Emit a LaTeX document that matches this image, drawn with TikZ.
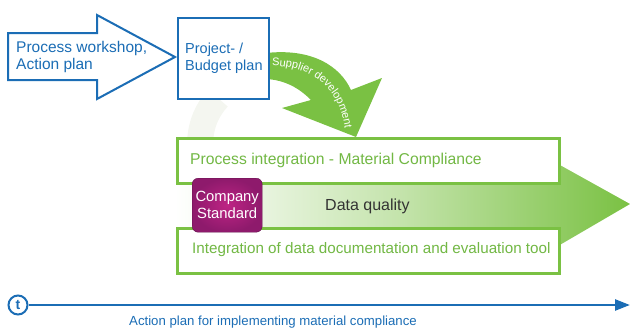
\documentclass[tikz,border=0pt]{standalone}
\usepackage{fontspec}
\setmainfont{Liberation Sans}
\usetikzlibrary{arrows.meta,decorations.text}
\definecolor{mblue}{HTML}{1B6DB5}
\definecolor{mgreen}{HTML}{7AC143}
\definecolor{tgreen}{HTML}{72B844}
\definecolor{mpurple}{HTML}{8E1A6C}
\definecolor{mpurplec}{HTML}{BE2484}
\definecolor{ringc}{HTML}{F4F6F0}
\begin{document}
\begin{tikzpicture}[x=1pt,y=-1pt,
  txt/.style={font=\fontsize{15.5}{17}\selectfont},
  bluebox/.style={draw=mblue,line width=2pt,fill=white},
  greenbox/.style={draw=mgreen,line width=2.5pt,fill=white,minimum width=382pt,minimum height=45pt,anchor=north west},
  greentxt/.style={text=tgreen,font=\fontsize{15.5}{17}\selectfont,anchor=west,inner sep=0pt}]
\useasboundingbox (0,0) rectangle (630,332);
% faint ring
\draw[ringc,line width=26pt] (218,98) .. controls (207,110) and (201,124) .. (200,142);
% big green arrow
\path[left color=white,right color=mgreen,middle color=mgreen!45] (175,178) -- (558,178) -- (558,164) -- (630,204) -- (558,246) -- (558,232) -- (175,232) -- cycle;
% curved arrow
\path[fill=mgreen] (266,53) .. controls (312,48) and (340,66) .. (351,90) -- (382,78) -- (356,137) -- (282,108) -- (311,100) .. controls (299,88) and (285,80) .. (266,79) -- cycle;
\path[decorate,decoration={text along path,text align=left,text={|\color{white}\fontsize{11}{11}\selectfont|Supplier development}}] (272,66) .. controls (318,66) and (341,95) .. (345,130);
% left arrow
\draw[bluebox,line join=miter] (8,33) -- (97,33) -- (97,15) -- (175,57) -- (97,99) -- (97,80) -- (8,80) -- cycle;
\node[txt,text=mblue,align=left,anchor=west,inner sep=0pt] (pw) at (16,57) {Process workshop,\\Action plan};
% project box
\node[bluebox,minimum width=91pt,minimum height=81pt,anchor=north west] (pb) at (177,17) {};
\node[text=mblue,align=left,anchor=west,inner sep=0pt,font=\fontsize{14.5}{17}\selectfont] (pbt) at (185,58) {Project- /\\Budget plan};
% green boxes
\node[greenbox] (top) at (176,137) {};
\node[greentxt,font=\fontsize{15.7}{17}\selectfont] (toptxt) at (190,160) {Process integration - Material Compliance};
\node[greenbox] (bot) at (176,227) {};
\node[greentxt,font=\fontsize{15.2}{17}\selectfont] (bottxt) at (192,250) {Integration of data documentation and evaluation tool};
% company standard
\node[draw=mpurple!70!black,line width=0.4pt,rounded corners=6pt,inner color=mpurplec,outer color=mpurple,minimum width=70pt,minimum height=54pt,anchor=north west,text=white,font=\fontsize{14.8}{17}\selectfont,align=center,inner sep=0pt] (cs) at (192,178) {Company\\Standard};
\node[text=black!80,anchor=west,inner sep=0pt,font=\fontsize{16}{18}\selectfont] (dq) at (325,206) {Data quality};
% timeline
\node[circle,draw=mblue,line width=2pt,minimum size=19pt,inner sep=0pt,text=mblue,font=\bfseries\fontsize{14}{14}\selectfont] (t) at (18,305) {t};
\coordinate (tend) at (630,305);
\draw[mblue,line width=2.5pt,-{Triangle[length=15pt,width=11pt]}] (t) -- (tend);
\node[text=mblue,font=\fontsize{13.2}{15}\selectfont] (ap) at (273,322) {Action plan for implementing material compliance};
\end{tikzpicture}
\end{document}
